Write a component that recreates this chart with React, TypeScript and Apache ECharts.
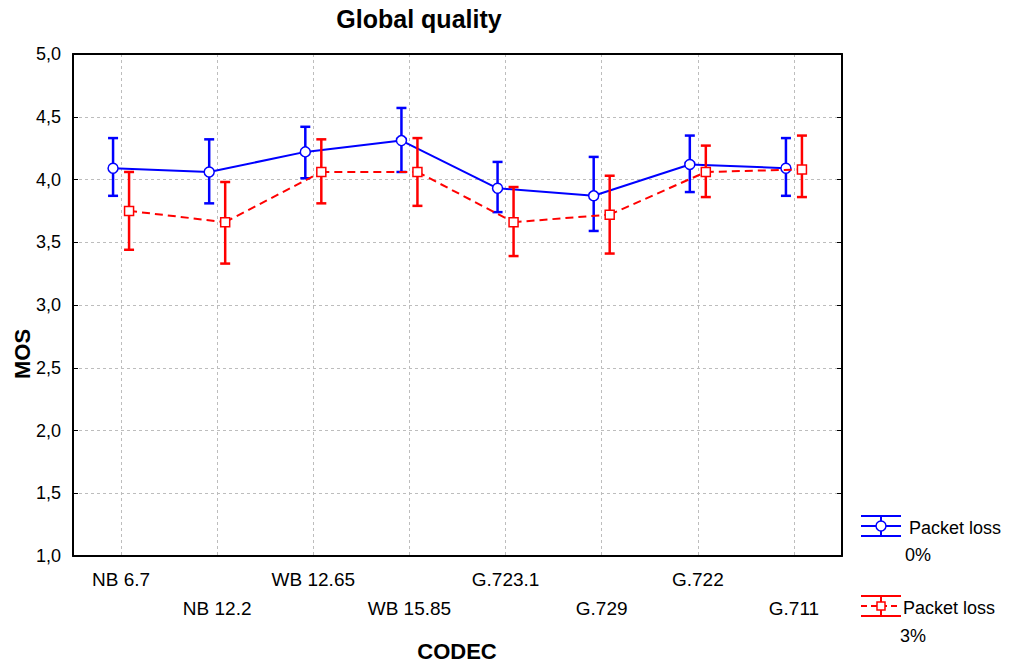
import React, { useEffect, useRef } from "react";
import * as echarts from "echarts";

const categories = ["NB 6.7", "NB 12.2", "WB 12.65", "WB 15.85", "G.723.1", "G.729", "G.722", "G.711"];
const loss0Mean = [4.09, 4.06, 4.22, 4.31, 3.93, 3.87, 4.12, 4.09];
const loss0Low = [3.87, 3.81, 4.01, 4.06, 3.74, 3.59, 3.9, 3.87];
const loss0High = [4.33, 4.32, 4.42, 4.57, 4.14, 4.18, 4.35, 4.33];
const loss3Mean = [3.75, 3.66, 4.06, 4.06, 3.66, 3.72, 4.06, 4.08];
const loss3Low = [3.44, 3.33, 3.81, 3.79, 3.39, 3.41, 3.86, 3.86];
const loss3High = [4.06, 3.98, 4.32, 4.33, 3.94, 4.03, 4.27, 4.35];
const seriesNames = ["Packet loss 0%", "Packet loss 3%"];
const FONT = "'Liberation Sans', Arial, sans-serif";

function makeRender(mean: number[], color: string, dash: any, offset: number, marker: "circle" | "square") {
  return (params: any, api: any) => {
    const i = api.value(0);
    const p = api.coord([i, api.value(1)]);
    const pl = api.coord([i, api.value(2)]);
    const ph = api.coord([i, api.value(3)]);
    const x = p[0] + offset;
    const children: any[] = [];
    if (i < mean.length - 1) {
      const q = api.coord([i + 1, mean[i + 1]]);
      children.push({
        type: "line",
        shape: { x1: x, y1: p[1], x2: q[0] + offset, y2: q[1] },
        style: { stroke: color, lineWidth: 2, lineDash: dash },
      });
    }
    const bar = { stroke: color, lineWidth: 2.5 };
    children.push({ type: "line", shape: { x1: x, y1: pl[1], x2: x, y2: ph[1] }, style: bar });
    children.push({ type: "line", shape: { x1: x - 5, y1: pl[1], x2: x + 5, y2: pl[1] }, style: bar });
    children.push({ type: "line", shape: { x1: x - 5, y1: ph[1], x2: x + 5, y2: ph[1] }, style: bar });
    if (marker === "circle") {
      children.push({ type: "circle", shape: { cx: x, cy: p[1], r: 5 }, style: { fill: "#fff", stroke: color, lineWidth: 1.5 } });
    } else {
      children.push({ type: "rect", shape: { x: x - 4.5, y: p[1] - 4.5, width: 9, height: 9 }, style: { fill: "#fff", stroke: color, lineWidth: 1.5 } });
    }
    return { type: "group", children };
  };
}

function legendIcon(x: number, y: number, color: string, dashed: boolean, marker: "circle" | "square") {
  const s = { stroke: color, lineWidth: 2 };
  const children: any[] = [
    { type: "line", shape: { x1: x, y1: y - 10, x2: x + 40, y2: y - 10 }, style: s },
    { type: "line", shape: { x1: x, y1: y + 10, x2: x + 40, y2: y + 10 }, style: s },
    { type: "line", shape: { x1: x, y1: y, x2: x + 40, y2: y }, style: { ...s, lineDash: dashed ? [6, 4] : null } },
    { type: "line", shape: { x1: x + 20, y1: y - 10, x2: x + 20, y2: y + 10 }, style: s },
  ];
  if (marker === "circle") {
    children.push({ type: "circle", shape: { cx: x + 20, cy: y, r: 5 }, style: { fill: "#fff", stroke: color, lineWidth: 1.5 } });
  } else {
    children.push({ type: "rect", shape: { x: x + 16, y: y - 4, width: 8, height: 8 }, style: { fill: "#fff", stroke: color, lineWidth: 1.5 } });
  }
  return { type: "group", children };
}

export default function App() {
  const ref = useRef<HTMLDivElement>(null);
  useEffect(() => {
    document.body.style.margin = "0";
    const chart = echarts.init(ref.current!, null, { renderer: "svg" });
    const axisLineStyle = { color: "#000", width: 2 };
    const gridLine = { show: true, lineStyle: { color: "#bdbdbd", type: [3, 3], width: 1 } };
    chart.setOption({
      animation: false,
      backgroundColor: "#fff",
      textStyle: { fontFamily: FONT },
      grid: { left: 73, top: 54, width: 769, height: 502 },
      xAxis: [
        {
          type: "category",
          data: categories,
          position: "bottom",
          boundaryGap: true,
          axisLine: { lineStyle: axisLineStyle },
          axisTick: { inside: true, alignWithLabel: true, length: 5, lineStyle: { color: "#000", width: 1 } },
          splitLine: { ...gridLine, alignWithLabel: true },
          axisLabel: {
            interval: 0,
            color: "#000",
            fontSize: 19,
            fontFamily: FONT,
            lineHeight: 29,
            margin: 9,
            formatter: (v: string, i: number) => (i % 2 === 1 ? "\n" + v : v),
          },
        },
        {
          type: "category",
          data: categories,
          position: "top",
          boundaryGap: true,
          axisLine: { lineStyle: axisLineStyle },
          axisTick: { inside: true, alignWithLabel: true, length: 5, lineStyle: { color: "#000", width: 1 } },
          axisLabel: { show: false },
          splitLine: { show: false },
        },
      ],
      yAxis: [
        {
          type: "value",
          min: 1,
          max: 5,
          interval: 0.5,
          position: "left",
          axisLine: { show: true, lineStyle: axisLineStyle },
          axisTick: { show: true, inside: true, length: 5, lineStyle: { color: "#000", width: 1 } },
          splitLine: gridLine,
          axisLabel: {
            color: "#000",
            fontSize: 18,
            fontFamily: FONT,
            margin: 12,
            formatter: (v: number) => v.toFixed(1).replace(".", ","),
          },
        },
        {
          type: "value",
          min: 1,
          max: 5,
          interval: 0.5,
          position: "right",
          axisLine: { show: true, lineStyle: axisLineStyle },
          axisTick: { show: true, inside: true, length: 5, lineStyle: { color: "#000", width: 1 } },
          splitLine: { show: false },
          axisLabel: { show: false },
        },
      ],
      series: [
        {
          name: seriesNames[0],
          type: "custom",
          xAxisIndex: 0,
          yAxisIndex: 0,
          encode: { x: 0, y: [1, 2, 3] },
          renderItem: makeRender(loss0Mean, "#0000ff", null, -8, "circle"),
          data: categories.map((_, i) => [i, loss0Mean[i], loss0Low[i], loss0High[i]]),
          clip: false,
        },
        {
          name: seriesNames[1],
          type: "custom",
          xAxisIndex: 0,
          yAxisIndex: 0,
          encode: { x: 0, y: [1, 2, 3] },
          renderItem: makeRender(loss3Mean, "#ff0000", [8, 5], 8, "square"),
          data: categories.map((_, i) => [i, loss3Mean[i], loss3Low[i], loss3High[i]]),
          clip: false,
        },
      ],
      graphic: [
        { type: "text", x: 419, y: 19, style: { text: "Global quality", font: `bold 25px ${FONT}`, fill: "#000", align: "center", verticalAlign: "middle" } },
        { type: "text", x: 457, y: 651, style: { text: "CODEC", font: `bold 22px ${FONT}`, fill: "#000", align: "center", verticalAlign: "middle" } },
        { type: "text", x: 22, y: 354, rotation: Math.PI / 2, style: { text: "MOS", font: `bold 22px ${FONT}`, fill: "#000", align: "center", verticalAlign: "middle" } },
        legendIcon(861, 526, "#0000ff", false, "circle"),
        { type: "text", x: 909, y: 528, style: { text: "Packet loss", font: `18px ${FONT}`, fill: "#000", verticalAlign: "middle" } },
        { type: "text", x: 905, y: 555, style: { text: "0%", font: `18px ${FONT}`, fill: "#000", verticalAlign: "middle" } },
        legendIcon(861, 606, "#ff0000", true, "square"),
        { type: "text", x: 903, y: 608, style: { text: "Packet loss", font: `18px ${FONT}`, fill: "#000", verticalAlign: "middle" } },
        { type: "text", x: 900, y: 636, style: { text: "3%", font: `18px ${FONT}`, fill: "#000", verticalAlign: "middle" } },
      ],
    });
    return () => chart.dispose();
  }, []);
  return <div ref={ref} style={{ width: 1015, height: 663 }} />;
}
